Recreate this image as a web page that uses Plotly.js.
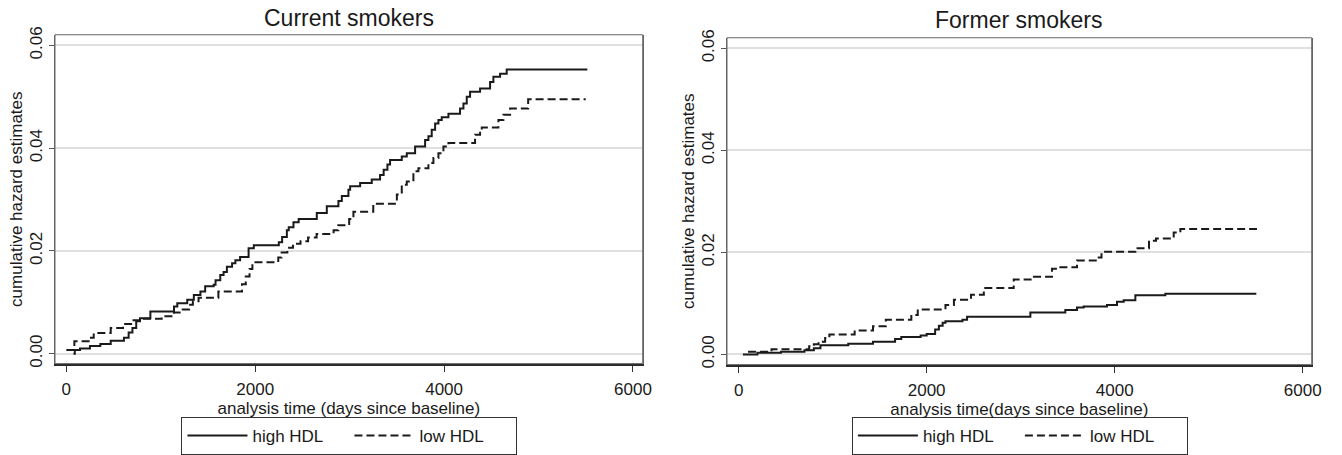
<!DOCTYPE html>
<html>
<head>
<meta charset="utf-8">
<script src="https://cdn.plot.ly/plotly-3.0.1.min.js"></script>
<style>
html,body{margin:0;padding:0;background:#fff;}
#chart{width:1342px;height:455px;}
</style>
</head>
<body>
<div id="chart"></div>
<script>
// ---- Data: Current smokers ----
var currentHighX = [75, 90, 145, 250, 360, 470, 610, 660, 700, 740, 780, 890, 1140, 1175, 1280, 1350, 1420, 1470, 1560, 1580, 1630, 1665, 1700, 1755, 1790, 1840, 1930, 1985, 2250, 2285, 2335, 2355, 2405, 2460, 2652, 2758, 2881, 2917, 2987, 3005, 3111, 3234, 3322, 3360, 3400, 3428, 3552, 3605, 3693, 3799, 3834, 3869, 3905, 3940, 3975, 4046, 4169, 4205, 4240, 4275, 4381, 4487, 4522, 4593, 4663, 5517];
var currentHighY = [0.0000, 0.0007, 0.0010, 0.0015, 0.0019, 0.0025, 0.0031, 0.0041, 0.0050, 0.0063, 0.0069, 0.0082, 0.0092, 0.0098, 0.0105, 0.0114, 0.0121, 0.0131, 0.0134, 0.0143, 0.0153, 0.0159, 0.0169, 0.0176, 0.0182, 0.0188, 0.0205, 0.0211, 0.0217, 0.0227, 0.0240, 0.0246, 0.0256, 0.0262, 0.0274, 0.0287, 0.0297, 0.0307, 0.0319, 0.0326, 0.0332, 0.0339, 0.0348, 0.0358, 0.0368, 0.0377, 0.0384, 0.0390, 0.0403, 0.0416, 0.0423, 0.0436, 0.0448, 0.0455, 0.0460, 0.0467, 0.0477, 0.0487, 0.0500, 0.0510, 0.0516, 0.0529, 0.0539, 0.0545, 0.0553, 0.0553];
var currentLowX = [0, 85, 250, 290, 470, 600, 700, 780, 1010, 1140, 1200, 1300, 1340, 1400, 1610, 1860, 1900, 1940, 1970, 2244, 2280, 2340, 2400, 2480, 2560, 2650, 2830, 2880, 2995, 3040, 3250, 3500, 3552, 3605, 3675, 3728, 3834, 3887, 3940, 3993, 4046, 4328, 4381, 4399, 4575, 4628, 4699, 4890, 5500];
var currentLowY = [0.0007, 0.0024, 0.0031, 0.0040, 0.0050, 0.0058, 0.0065, 0.0068, 0.0073, 0.0080, 0.0086, 0.0095, 0.0102, 0.0109, 0.0121, 0.0135, 0.0150, 0.0165, 0.0178, 0.0187, 0.0197, 0.0206, 0.0214, 0.0219, 0.0226, 0.0233, 0.0240, 0.0250, 0.0262, 0.0276, 0.0292, 0.0310, 0.0329, 0.0335, 0.0355, 0.0361, 0.0371, 0.0381, 0.0390, 0.0403, 0.0410, 0.0426, 0.0435, 0.0440, 0.0455, 0.0465, 0.0477, 0.0495, 0.0495];

// ---- Data: Former smokers ----
var formerHighX = [45, 200, 450, 700, 800, 870, 1166, 1429, 1664, 1730, 1936, 2000, 2090, 2130, 2170, 2200, 2381, 2430, 3103, 3475, 3599, 3670, 3918, 4025, 4096, 4220, 4539, 5507];
var formerHighY = [0.0000, 0.0003, 0.0005, 0.0008, 0.0012, 0.0018, 0.0021, 0.0025, 0.0030, 0.0034, 0.0037, 0.0040, 0.0049, 0.0056, 0.0062, 0.0065, 0.0068, 0.0074, 0.0082, 0.0087, 0.0092, 0.0094, 0.0097, 0.0103, 0.0106, 0.0116, 0.0119, 0.0119];
var formerLowX = [100, 350, 750, 800, 850, 920, 965, 1234, 1429, 1565, 1837, 1905, 2200, 2290, 2472, 2608, 2926, 3141, 3333, 3400, 3599, 3812, 3860, 4220, 4365, 4440, 4628, 4699, 5514];
var formerLowY = [0.0005, 0.0010, 0.0016, 0.0020, 0.0025, 0.0032, 0.0039, 0.0047, 0.0055, 0.0068, 0.0077, 0.0088, 0.0097, 0.0107, 0.0117, 0.0130, 0.0147, 0.0152, 0.0168, 0.0171, 0.0184, 0.0190, 0.0201, 0.0208, 0.0223, 0.0227, 0.0239, 0.0246, 0.0246];

var seriesNames = ['high HDL', 'low HDL'];
var panelTitles = ['Current smokers', 'Former smokers'];
var xTitles = ['analysis time (days since baseline)', 'analysis time(days since baseline)'];
var yTitle = 'cumulative hazard estimates';
var yTickVals = [0, 0.02, 0.04, 0.06];
var yTickText = ['0.00', '0.02', '0.04', '0.06'];
var xTickVals = [0, 2000, 4000, 6000];

var FONT = 'Liberation Sans, Arial, Helvetica, sans-serif';
var INK = '#1a1a1a';

function line(x, y, name, dash, xa, ya, lg, show) {
  return {
    type: 'scatter', mode: 'lines', x: x, y: y, name: name,
    xaxis: xa, yaxis: ya, legend: lg, showlegend: show,
    line: {shape: 'hv', color: INK, width: 2, dash: dash},
    hoverinfo: 'x+y'
  };
}

var data = [
  line(currentHighX, currentHighY, seriesNames[0], 'solid', 'x', 'y', 'legend', true),
  line(currentLowX, currentLowY, seriesNames[1], '8px,4px', 'x', 'y', 'legend', true),
  line(formerHighX, formerHighY, seriesNames[0], 'solid', 'x2', 'y2', 'legend2', true),
  line(formerLowX, formerLowY, seriesNames[1], '8px,4px', 'x2', 'y2', 'legend2', true)
];

function xAxis(domain, range, anchor, title) {
  return {
    domain: domain, range: range, anchor: anchor,
    tickvals: xTickVals, ticks: 'outside', ticklen: 6, tickwidth: 1, tickcolor: '#333',
    showline: true, linecolor: '#2a2a2a', linewidth: 2.5, mirror: false,
    showgrid: false, zeroline: false, ticklabelstandoff: 3,
    tickfont: {family: FONT, size: 17, color: INK},
    title: {text: title, font: {family: FONT, size: 17, color: INK}, standoff: 0}
  };
}
function yAxis(domain, range, anchor) {
  return {
    domain: domain, range: range, anchor: anchor,
    tickvals: yTickVals, ticktext: yTickText, tickangle: -90,
    ticks: 'outside', ticklen: 5, tickwidth: 1, tickcolor: '#555',
    showline: true, linecolor: '#666', linewidth: 1, mirror: true,
    showgrid: true, gridcolor: '#e0e0e0', gridwidth: 2, zeroline: false,
    tickfont: {family: FONT, size: 17, color: INK},
    title: {text: yTitle, font: {family: FONT, size: 17, color: INK}, standoff: 0}
  };
}

var legendBase = {
  orientation: 'h', xanchor: 'center', yanchor: 'top', y: 0.0769,
  bgcolor: '#fff', bordercolor: '#333', borderwidth: 1,
  font: {family: FONT, size: 17, color: INK},
  itemwidth: 60, entrywidth: 92, traceorder: 'normal',
  itemclick: false, itemdoubleclick: false
};

var layout = {
  width: 1342, height: 455,
  margin: {l: 0, r: 0, t: 0, b: 0},
  paper_bgcolor: '#fff', plot_bgcolor: '#fff',
  showlegend: true,
  xaxis: xAxis([0.04098, 0.47891], [-120, 6103], 'y', xTitles[0]),
  yaxis: yAxis([0.19560, 0.92308], [-0.00193, 0.06207], 'x'),
  xaxis2: xAxis([0.54173, 0.97742], [-124, 6096], 'y2', xTitles[1]),
  yaxis2: yAxis([0.19341, 0.91648], [-0.00200, 0.06208], 'x2'),
  legend: Object.assign({}, legendBase, {x: 0.2604}),
  legend2: Object.assign({}, legendBase, {x: 0.7600}),
  shapes: [
    {type: 'rect', xref: 'x domain', yref: 'y domain', x0: 0, x1: 1, y0: 0, y1: 1, line: {color: '#666', width: 1}, layer: 'above'},
    {type: 'rect', xref: 'x2 domain', yref: 'y2 domain', x0: 0, x1: 1, y0: 0, y1: 1, line: {color: '#666', width: 1}, layer: 'above'}
  ],
  annotations: [
    {text: panelTitles[0], xref: 'paper', yref: 'paper', x: 0.2601, y: 0.9604, xanchor: 'center', yanchor: 'middle', showarrow: false, font: {family: FONT, size: 23, color: INK}},
    {text: panelTitles[1], xref: 'paper', yref: 'paper', x: 0.7593, y: 0.9560, xanchor: 'center', yanchor: 'middle', showarrow: false, font: {family: FONT, size: 23, color: INK}}
  ]
};

Plotly.newPlot('chart', data, layout, {staticPlot: true, displayModeBar: false});
</script>
</body>
</html>
